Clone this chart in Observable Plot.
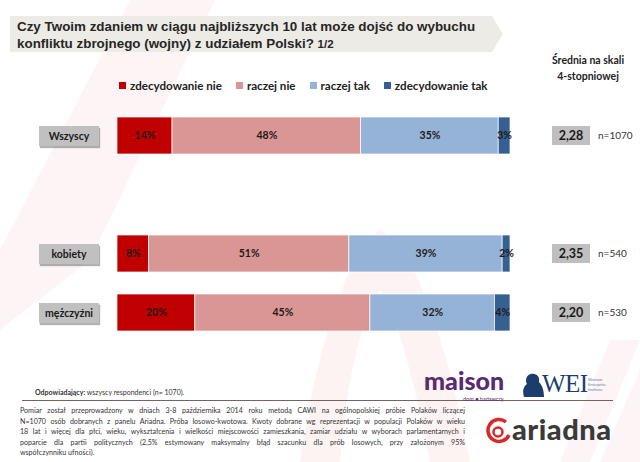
<!DOCTYPE html>
<html><head><meta charset="utf-8">
<script src="https://cdn.jsdelivr.net/npm/d3@7"></script>
<script src="https://cdn.jsdelivr.net/npm/@observablehq/plot@0.6"></script>
<style>
body{margin:0;background:#fff;}
#root{position:relative;width:640px;height:462px;overflow:hidden;font-family:Lato,"Open Sans",sans-serif;color:#222;}
.abs{position:absolute;}
.lab{position:absolute;background:#C0C0C0;box-shadow:1px 2px 1px rgba(0,0,0,0.3);font-weight:bold;font-size:10.5px;display:flex;align-items:center;justify-content:center;color:#1a1a1a;}
.mean{position:absolute;background:#BFBFBF;font-weight:bold;font-size:12.5px;display:flex;align-items:center;justify-content:center;color:#1a1a1a;}
.cnt{position:absolute;font-size:10px;color:#333;}
.para div{text-align:justify;text-align-last:justify;white-space:nowrap;}
</style></head><body><div id="root"></div>
<script>
const groups = ["Wszyscy", "kobiety", "mężczyźni"];
const answers = ["zdecydowanie nie", "raczej nie", "raczej tak", "zdecydowanie tak"];
const colors = ["#C00000", "#DA9694", "#95B3D7", "#376092"];
const valWszyscy = [14, 48, 35, 3];
const valKobiety = [8, 51, 39, 2];
const valMezczyzni = [20, 45, 32, 4];
const means = ["2,28", "2,35", "2,20"];
const counts = ["n=1070", "n=540", "n=530"];

const values = [valWszyscy, valKobiety, valMezczyzni];
const rows = groups.flatMap((g, i) => values[i].map((v, j) => ({group: g, answer: answers[j], value: v})));

const root = document.getElementById("root");

// faint background watermark
root.insertAdjacentHTML("beforeend", `
<svg class="abs" style="left:0;top:0" width="640" height="462">
  <path d="M130,0 L215,0 L90,260 L0,330 L0,250 Z" fill="#FDF5F5"/>
  <path d="M300,462 C320,330 350,250 380,230 C420,250 450,360 470,462 L430,462 C415,380 395,310 380,290 C360,320 345,390 340,462 Z" fill="#FDF3F3"/>
  <path d="M560,462 L610,340 L640,340 L590,462 Z" fill="#FDF5F5"/>
  <path d="M600,462 L640,370 L640,462 Z" fill="#FDF5F5"/>
</svg>`);

// title banner
root.insertAdjacentHTML("beforeend", `
<svg class="abs" style="left:0;top:0" width="640" height="60">
  <path d="M10,16 L492,16 L503,34 L492,52 L10,52 Z" fill="#EDEBE5"/>
</svg>
<div class="abs" style="left:17px;top:18px;font-family:'Liberation Sans',Arial,sans-serif;font-weight:bold;font-size:13.4px;line-height:17px;color:#262626;">Czy Twoim zdaniem w ciągu najbliższych 10 lat może dojść do wybuchu<br>konfliktu zbrojnego (wojny) z udziałem Polski? <span style="font-size:11.5px">1/2</span></div>
<div class="abs" style="left:540px;top:52px;width:96px;text-align:center;font-weight:bold;font-size:10.5px;line-height:16px;color:#222;">Średnia na skali<br>4-stopniowej</div>
`);

// legend
const leg = document.createElement("div");
leg.className = "abs";
leg.style.cssText = "left:119px;top:79px;display:flex;gap:14px;font-weight:bold;font-size:11.6px;color:#222;white-space:nowrap;";
answers.forEach((a, i) => {
  const it = document.createElement("div");
  it.style.cssText = "display:flex;align-items:center;gap:4px;";
  it.innerHTML = `<span style="display:inline-block;width:7px;height:7px;background:${colors[i]}"></span><span>${a}</span>`;
  leg.appendChild(it);
});
root.appendChild(leg);

const chart = Plot.plot({
  width: 640, height: 462,
  marginLeft: 117, marginRight: 130, marginTop: 93, marginBottom: 108,
  style: {background: "transparent", overflow: "visible"},
  x: {axis: null, domain: [0, 1]},
  y: {axis: null, domain: [groups[0], "", groups[1], groups[2]], padding: 0.38},
  color: {domain: answers, range: colors},
  marks: [
    Plot.barX(rows, Plot.stackX({offset: "normalize", order: answers, x: "value", y: "group", z: "answer", fill: "answer", stroke: "white", strokeWidth: 0.7})),
    Plot.text(rows, Plot.stackX({offset: "normalize", order: answers, x: "value", y: "group", z: "answer", text: d => d.value + "%", fill: "#1f1a1a", fontWeight: "bold", fontSize: 10.5, fontFamily: "Lato"}))
  ]
});
chart.style.position = "absolute";
chart.style.left = "0px";
chart.style.top = "0px";
root.appendChild(chart);

const y = chart.scale("y");
groups.forEach((g, i) => {
  const cy = y.apply(g) + y.bandwidth / 2;
  const lab = document.createElement("div");
  lab.className = "lab";
  lab.style.cssText += `left:39px;width:60px;height:20px;top:${cy - 10}px;`;
  lab.textContent = g;
  root.appendChild(lab);
  const m = document.createElement("div");
  m.className = "mean";
  m.style.cssText += `left:552px;width:38px;height:19px;top:${cy - 9.5}px;`;
  m.textContent = means[i];
  root.appendChild(m);
  const c = document.createElement("div");
  c.className = "cnt";
  c.style.cssText += `left:598px;top:${cy - 7}px;`;
  c.textContent = counts[i];
  root.appendChild(c);
});

// footer
root.insertAdjacentHTML("beforeend", `
<div class="abs" style="left:35px;top:388px;font-size:7px;color:#333;"><b>Odpowiadający:</b> wszyscy respondenci (n= 1070).</div>
<div class="abs" style="left:22px;top:400px;width:591px;height:1.3px;background:#7A6262;"></div>
<div class="abs para" style="left:20px;top:406px;width:445px;font-size:7.1px;line-height:10.6px;color:#333;">
<div>Pomiar został przeprowadzony w dniach 3-8 października 2014 roku metodą CAWI na ogólnopolskiej próbie Polaków liczącej</div>
<div>N=1070 osób dobranych z panelu Ariadna. Próba losowo-kwotowa. Kwoty dobrane wg reprezentacji w populacji Polaków w wieku</div>
<div>18 lat i więcej dla płci, wieku, wykształcenia i wielkości miejscowości zamieszkania, zamiar udziału w wyborach parlamentarnych i</div>
<div>poparcie dla partii politycznych (2,5% estymowany maksymalny błąd szacunku dla prób losowych, przy założonym 95%</div>
<div style="text-align-last:left">współczynniku ufności).</div>
</div>
<div class="abs" style="left:424px;top:370px;font-family:Lato,sans-serif;font-weight:900;font-size:25px;line-height:20px;color:#5A2A70;">maison</div>
<div class="abs" style="left:463px;top:396px;font-size:5.5px;line-height:6px;color:#5A2A70;">dom ● badawczy</div>
<svg class="abs" style="left:518px;top:372px" width="30" height="26"><path d="M6,25 C4,18 6,14 9,12 C7,9 8,3 13,2 C19,1 22,5 21,10 C24,13 26,18 26,25 Z" fill="#1B3D6E"/></svg>
<div class="abs" style="left:542px;top:371px;font-family:'Liberation Serif',serif;font-size:25px;line-height:26px;color:#1B3D6E;letter-spacing:-0.5px;">WEI</div>
<div class="abs" style="left:588px;top:377px;font-size:4px;line-height:5px;color:#6a7a99;">Warsaw<br>Enterprise<br>Institute</div>
<svg class="abs" style="left:484px;top:416px" width="28" height="30">
  <path d="M22,6 A11,11 0 1 0 25,19" fill="none" stroke="#D62A2A" stroke-width="3.5"/>
  <circle cx="14" cy="16" r="4.5" fill="none" stroke="#D62A2A" stroke-width="2.5"/>
</svg>
<div class="abs" style="left:512px;top:412px;font-family:Lato,sans-serif;font-weight:900;font-size:29px;line-height:34px;color:#3a3a3a;letter-spacing:0.5px;">ariadna</div>
`);
</script>
</body></html>
